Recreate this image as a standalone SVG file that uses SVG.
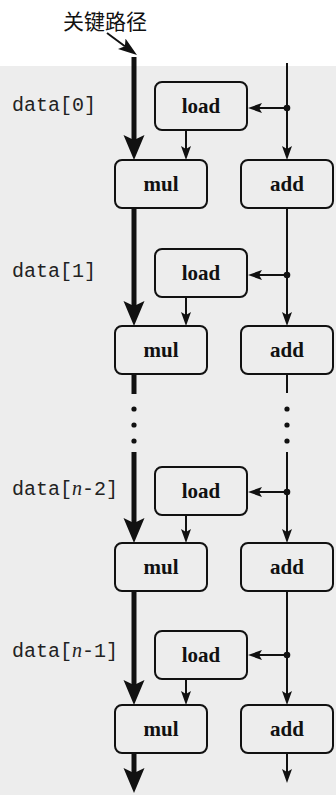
<svg xmlns="http://www.w3.org/2000/svg" width="336" height="795" viewBox="0 0 336 795">
<style>
.bg{fill:#ffffff}
.paper{fill:#ededed}
.box{fill:none;stroke:#111;stroke-width:2}
.op{font-family:"Liberation Serif","Times New Roman",serif;font-weight:bold;font-size:21px;fill:#111;text-anchor:middle}
.lbl{font-family:"Liberation Mono","Courier New",monospace;font-size:20px;fill:#222}
.it{font-family:"Liberation Serif","Times New Roman",serif;font-style:italic}
.title{font-family:"Noto Sans CJK SC","Noto Sans CJK JP",sans-serif;font-size:21px;fill:#111;text-anchor:middle}
.thin{stroke:#111;stroke-width:2;fill:none}
.thick{stroke:#111;stroke-width:5;fill:none}
.dot{fill:#111}
</style>
<defs>
<marker id="ah" markerUnits="userSpaceOnUse" viewBox="0 -6 16 12" markerWidth="16" markerHeight="12" refX="3" refY="0" orient="auto">
<path d="M0,-5 L14,0 L0,5 L3,0 Z" fill="#111"/>
</marker>
<marker id="ahT" markerUnits="userSpaceOnUse" viewBox="0 -11 26 22" markerWidth="26" markerHeight="22" refX="5" refY="0" orient="auto">
<path d="M0,-10.5 L25,0 L0,10.5 L5,0 Z" fill="#111"/>
</marker>
<marker id="ahC" markerUnits="userSpaceOnUse" viewBox="0 -7 20 14" markerWidth="20" markerHeight="14" refX="4" refY="0" orient="auto">
<path d="M0,-6.5 L19,0 L0,6.5 L4,0 Z" fill="#111"/>
</marker>
</defs>
<rect class="bg" x="0" y="0" width="336" height="795"/>
<rect class="paper" x="0" y="66" width="336" height="729"/>

<text class="title" x="105" y="29">关键路径</text>

<g id="labels">
<text class="lbl" x="12" y="111">data[0]</text>
<text class="lbl" x="12" y="277">data[1]</text>
<text class="lbl" x="12" y="495">data[<tspan class="it">n</tspan>-2]</text>
<text class="lbl" x="12" y="657">data[<tspan class="it">n</tspan>-1]</text>
</g>

<g id="connectors">
<line class="thin" x1="107" y1="33" x2="124.9" y2="46.2" stroke-width="3" marker-end="url(#ahC)"/>
<!-- critical path -->
<line class="thick" x1="134" y1="57" x2="134" y2="140" marker-end="url(#ahT)"/>
<line class="thick" x1="134" y1="208" x2="134" y2="306" marker-end="url(#ahT)"/>
<line class="thick" x1="134" y1="374" x2="134" y2="394"/>
<line class="thick" x1="134" y1="452" x2="134" y2="523" marker-end="url(#ahT)"/>
<line class="thick" x1="134" y1="591" x2="134" y2="685" marker-end="url(#ahT)"/>
<line class="thick" x1="134" y1="753" x2="134" y2="773" marker-end="url(#ahT)"/>
<circle class="dot" cx="134" cy="409" r="2.6"/>
<circle class="dot" cx="134" cy="425" r="2.6"/>
<circle class="dot" cx="134" cy="441" r="2.6"/>
<!-- add chain -->
<line class="thin" x1="287" y1="63" x2="287" y2="149" marker-end="url(#ah)"/>
<line class="thin" x1="287" y1="208" x2="287" y2="315" marker-end="url(#ah)"/>
<line class="thin" x1="287" y1="374" x2="287" y2="393"/>
<line class="thin" x1="287" y1="452" x2="287" y2="532" marker-end="url(#ah)"/>
<line class="thin" x1="287" y1="591" x2="287" y2="694" marker-end="url(#ah)"/>
<line class="thin" x1="287" y1="753" x2="287" y2="772" marker-end="url(#ah)"/>
<circle class="dot" cx="287" cy="409" r="2.6"/>
<circle class="dot" cx="287" cy="425" r="2.6"/>
<circle class="dot" cx="287" cy="441" r="2.6"/>
<!-- branches to load -->
<line class="thin" x1="287" y1="108" x2="259" y2="108" marker-end="url(#ah)"/>
<line class="thin" x1="287" y1="275" x2="259" y2="275" marker-end="url(#ah)"/>
<line class="thin" x1="287" y1="492" x2="259" y2="492" marker-end="url(#ah)"/>
<line class="thin" x1="287" y1="655" x2="259" y2="655" marker-end="url(#ah)"/>
<circle class="dot" cx="287" cy="108" r="3.3"/>
<circle class="dot" cx="287" cy="275" r="3.3"/>
<circle class="dot" cx="287" cy="492" r="3.3"/>
<circle class="dot" cx="287" cy="655" r="3.3"/>
<!-- load to mul -->
<line class="thin" x1="186" y1="130" x2="186" y2="149" marker-end="url(#ah)"/>
<line class="thin" x1="186" y1="297" x2="186" y2="315" marker-end="url(#ah)"/>
<line class="thin" x1="186" y1="515" x2="186" y2="532" marker-end="url(#ah)"/>
<line class="thin" x1="186" y1="679" x2="186" y2="694" marker-end="url(#ah)"/>
</g>

<g id="load0"><rect class="box" x="155" y="82" width="92" height="48" rx="7"/><text class="op" x="201" y="113">load</text></g>
<g id="mul0"><rect class="box" x="115" y="160" width="92" height="48" rx="7"/><text class="op" x="161" y="191">mul</text></g>
<g id="add0"><rect class="box" x="241" y="160" width="92" height="48" rx="7"/><text class="op" x="287" y="191">add</text></g>

<g id="load1"><rect class="box" x="155" y="249" width="92" height="48" rx="7"/><text class="op" x="201" y="280">load</text></g>
<g id="mul1"><rect class="box" x="115" y="326" width="92" height="48" rx="7"/><text class="op" x="161" y="357">mul</text></g>
<g id="add1"><rect class="box" x="241" y="326" width="92" height="48" rx="7"/><text class="op" x="287" y="357">add</text></g>

<g id="load2"><rect class="box" x="155" y="467" width="92" height="48" rx="7"/><text class="op" x="201" y="498">load</text></g>
<g id="mul2"><rect class="box" x="115" y="543" width="92" height="48" rx="7"/><text class="op" x="161" y="574">mul</text></g>
<g id="add2"><rect class="box" x="241" y="543" width="92" height="48" rx="7"/><text class="op" x="287" y="574">add</text></g>

<g id="load3"><rect class="box" x="155" y="631" width="92" height="48" rx="7"/><text class="op" x="201" y="662">load</text></g>
<g id="mul3"><rect class="box" x="115" y="705" width="92" height="48" rx="7"/><text class="op" x="161" y="736">mul</text></g>
<g id="add3"><rect class="box" x="241" y="705" width="92" height="48" rx="7"/><text class="op" x="287" y="736">add</text></g>
</svg>
